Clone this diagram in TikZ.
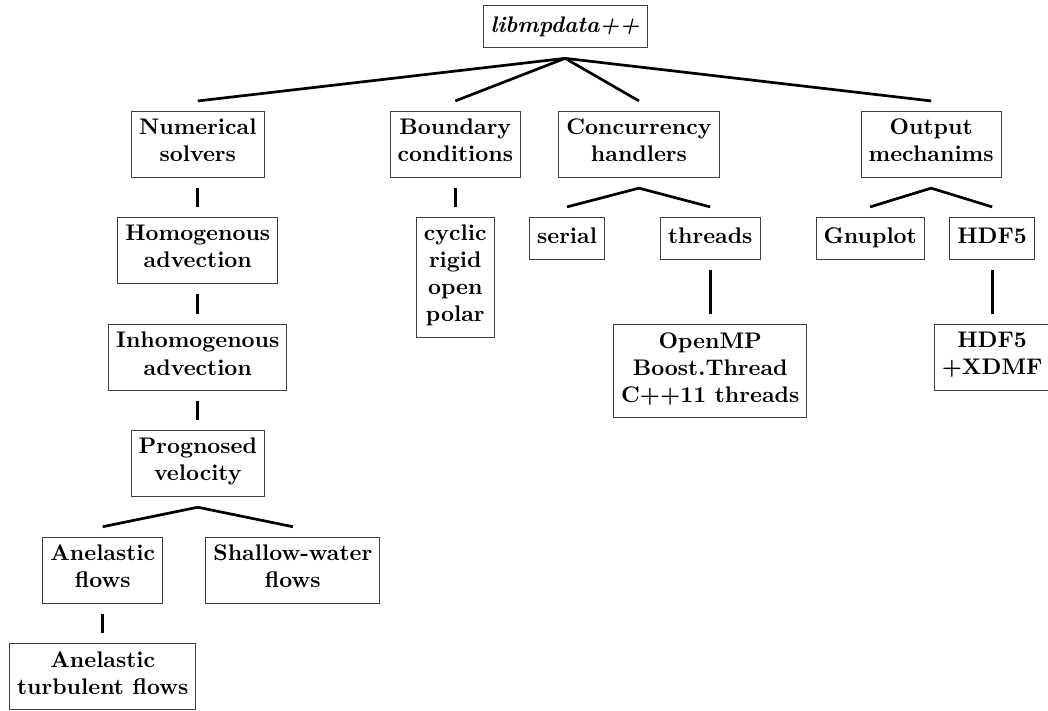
\documentclass[tikz,border=0pt]{standalone}
\begin{document}
\begin{tikzpicture}[%
% common options for the boxes:
block/.style = {draw=black!75, align=center, anchor=north, font=\bfseries,
            execute at begin node=\strut, execute at end node=\strut},
% common options for the branches:
branch/.style = {very thick}]
\useasboundingbox (0,0) rectangle (16.32,-11.07);
\node[block] (root) at (8.80,-0.08) {\textit{libmpdata++}};
\node[block] (solvers) at (3.08,-1.73) {Numerical\\solvers};
\node[block] (bcond) at (7.09,-1.73) {Boundary\\conditions};
\node[block] (concurr) at (9.95,-1.73) {Concurrency\\handlers};
\node[block] (output) at (14.50,-1.73) {Output\\mechanims};
\node[block] (homo) at (3.08,-3.38) {Homogenous\\advection};
\node[block] (inhomo) at (3.08,-5.05) {Inhomogenous\\advection};
\node[block] (progn) at (3.08,-6.70) {Prognosed\\velocity};
\node[block] (anel) at (1.60,-8.36) {Anelastic\\flows};
\node[block] (shallow) at (4.56,-8.36) {Shallow-water\\flows};
\node[block] (turb) at (1.60,-10.02) {Anelastic\\turbulent flows};
\node[block] (bclist) at (7.09,-3.38) {cyclic\\rigid\\open\\polar};
\node[block] (serial) at (8.83,-3.38) {serial};
\node[block] (threads) at (11.06,-3.38) {threads};
\node[block] (thrlist) at (11.06,-5.05) {OpenMP\\Boost.Thread\\C++11 threads};
\node[block] (gnuplot) at (13.55,-3.38) {Gnuplot};
\node[block] (hdf) at (15.45,-3.38) {HDF5};
\node[block] (xdmf) at (15.45,-5.05) {HDF5\\+XDMF};
\draw[branch] ([yshift=-4.5pt]root.south) to ([yshift=4.5pt]solvers.north);
\draw[branch] ([yshift=-4.5pt]root.south) to ([yshift=4.5pt]bcond.north);
\draw[branch] ([yshift=-4.5pt]root.south) to ([yshift=4.5pt]concurr.north);
\draw[branch] ([yshift=-4.5pt]root.south) to ([yshift=4.5pt]output.north);
\draw[branch] ([yshift=-4.5pt]solvers.south) to ([yshift=4.5pt]homo.north);
\draw[branch] ([yshift=-4.5pt]homo.south) to ([yshift=4.5pt]inhomo.north);
\draw[branch] ([yshift=-4.5pt]inhomo.south) to ([yshift=4.5pt]progn.north);
\draw[branch] ([yshift=-4.5pt]progn.south) to ([yshift=4.5pt]anel.north);
\draw[branch] ([yshift=-4.5pt]progn.south) to ([yshift=4.5pt]shallow.north);
\draw[branch] ([yshift=-4.5pt]anel.south) to ([yshift=4.5pt]turb.north);
\draw[branch] ([yshift=-4.5pt]bcond.south) to ([yshift=4.5pt]bclist.north);
\draw[branch] ([yshift=-4.5pt]concurr.south) to ([yshift=4.5pt]serial.north);
\draw[branch] ([yshift=-4.5pt]concurr.south) to ([yshift=4.5pt]threads.north);
\draw[branch] ([yshift=-4.5pt]threads.south) to ([yshift=4.5pt]thrlist.north);
\draw[branch] ([yshift=-4.5pt]output.south) to ([yshift=4.5pt]gnuplot.north);
\draw[branch] ([yshift=-4.5pt]output.south) to ([yshift=4.5pt]hdf.north);
\draw[branch] ([yshift=-4.5pt]hdf.south) to ([yshift=4.5pt]xdmf.north);
\end{tikzpicture}
\end{document}
